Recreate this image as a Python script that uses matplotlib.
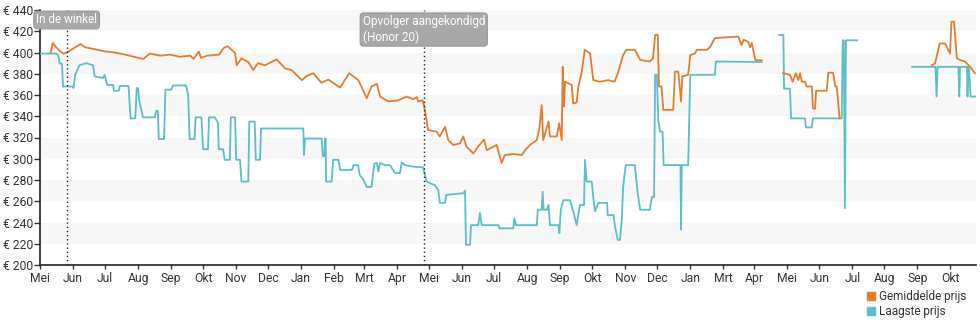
import numpy as np
import matplotlib
matplotlib.use('Agg')
import matplotlib.pyplot as plt
from matplotlib.patches import Patch

plt.rcParams['font.family'] = ['Roboto', 'DejaVu Sans']

start = np.datetime64('2018-05-01')
nan = np.nan

# dagen sinds 1 mei 2018, prijs in euro (nan = geen data)
avg_day = [10, 12, 15, 19, 22, 25, 30, 38, 42, 52, 61, 70, 80, 92, 97, 103, 113, 122, 131,
           141, 144, 149, 151, 157, 168, 172, 176, 183, 184.5, 189, 195.4, 200, 204.5, 211,
           222, 230, 236, 245.5, 250.5, 256.4, 264, 270.5, 281.5, 290, 298.6, 306.5, 311, 316,
           319, 326.7, 336, 344, 350, 353.6, 354.6, 359, 361, 364, 372, 375, 380, 383, 387.7,
           394, 397, 400, 406.5, 411, 416.5, 419, 428.4, 433, 436, 444, 452, 455, 459.6, 466,
           468.4, 470.6, 472, 477, 478.4, 484.7, 487, 489.4, 490.3, 491.5, 492.5, 498.7, 500.2,
           503.4, 505, 508, 511, 516, 519, 525, 533, 539, 542, 547, 550, 558, 563, 572, 575,
           577, 579.5, 580.6, 583, 584.7, 594, 595.6, 598.7, 601.3, 602.5, 608, 610, 614.4, 616,
           625.4, 628.5, 633, 655, 658, 660, 664.4, 666, 667.6, 671, 677,
           nan,
           697, 703.5, 706, 709, 711.4, 713, 714.6, 717.6, 719, 724, 725, 727, 728, 738, 739.5,
           744, 746, 747.4, 750,
           nan,
           836.4, 839.5, 844, 849, 853.6, 855, 857.4, 860, 863, 867.7, 872, 877]
avg_price = [400, 409, 405, 401, 399, 400, 403, 408, 405, 403, 401, 400, 398, 395, 394, 399, 397,
             398, 396, 397, 394, 401, 395, 397, 398, 404, 406, 399.5, 388, 394.5, 391, 383.5, 390,
             388, 393.5, 385, 383.5, 374, 378, 380.5, 371.5, 374.5, 367, 380.5, 374, 357, 368,
             370.5, 358.5, 354, 355, 358.5, 356, 358, 354, 355, 346, 327, 325.5, 321, 330, 317.5,
             313, 314.5, 321, 311.5, 305, 311.5, 318, 308, 313, 296, 303.5, 304.5, 303.5, 308,
             313, 317.5, 328.5, 350.5, 317.5, 335, 321, 321, 333.5, 317.5, 386.5, 349, 372.5,
             369.5, 352, 353, 368, 380.5, 402.5, 399, 374, 372.5, 374, 372.5, 380.5, 397.5, 402.5,
             402.5, 393, 391.5, 394.5, 416.5, 416.5, 368, 368, 346, 346, 382, 382, 354, 377.5,
             379, 397.5, 399, 402.5, 402.5, 405, 413.5, 415, 407, 412, 410, 405, 409, 393, 392.5,
             nan,
             380.5, 379, 372.5, 380.5, 374, 380.5, 372.5, 372.5, 368, 368, 347.5, 347, 364, 364,
             381, 381, 368, 368, 338,
             nan,
             388, 389.5, 408.5, 408.5, 399, 429, 429, 394.5, 393, 391.5, 387, 380.5]

low_day = [0, 15, 17, 18.5, 20.6, 21.6, 31, 31.4, 33, 37, 43.4, 49.7, 51.3, 59, 60.7, 63, 68.5,
           69.4, 74, 74.8, 83, 85, 89.4, 90.7, 92, 93, 96.6, 107.6, 109, 110.6, 111.4, 116.4,
           117.6, 123, 124.8, 137, 139, 140.4, 145, 146, 151.4, 153, 157.6, 158.5, 164, 167,
           167.6, 171.7, 173.3, 178, 179, 183, 184, 187.6, 189, 195.4, 196.3, 201.4, 202.4,
           206.4, 207.3, 247, 247.6, 248.6, 264.2, 265.2, 266.7, 267.3, 268, 268.3, 273.6, 275,
           280, 281.5, 292.7, 294, 298.3, 300, 303, 306.5, 311, 313.6, 316, 317.4, 319, 323.6,
           328.3, 333, 337.7, 339.3, 342.4, 350, 359.3, 362.7, 370.5, 373.6, 375, 380, 381, 397,
           398.7, 399.6, 403.4, 404.3, 411, 412.7, 414.3, 430, 431, 444, 445, 446.5, 466, 467,
           470.6, 471.5, 472.4, 475.5, 477, 478.4, 486.2, 487.2, 488.5, 491, 497, 500.2, 503.4,
           506.5, 510.3, 511.2, 512.8, 517.5, 519, 520.6, 523.7, 532, 532.5, 538, 539.4, 542,
           544, 545.7, 547, 549.4, 558, 560.7, 563, 572, 574, 576, 577, 578.6, 580, 581.7, 584,
           585, 600.8, 601.3, 602, 608, 610, 633, 634, 677,
           nan,
           693.5, 697.3, 698, 703.5, 704.5, 717.6, 718.5, 724, 725, 752, 753, 754, 755, 756,
           766.5,
           nan,
           818, 840, 841, 842, 861.5, 862.3, 863, 869.5, 870, 870.8, 871.5, 873, 878]
low_price = [399, 399, 397.5, 389.5, 389.5, 368, 368, 366.5, 379, 388, 390, 388, 377.5, 376, 379,
             369.5, 369.5, 364, 364, 368.5, 368.5, 338, 338, 366.5, 366.5, 355, 339, 339, 345,
             345, 318.5, 318.5, 365, 365, 369, 369, 360, 318.5, 318.5, 339, 339, 309, 309, 339,
             339, 333.5, 309, 309, 299, 299, 339, 339, 299, 299, 278.5, 278.5, 335, 335, 299,
             299, 328.5, 328.5, 303.5, 319, 319, 302.5, 302.5, 319, 319, 278.5, 278.5, 299, 299,
             289.5, 289.5, 294, 294, 284.5, 281, 273.5, 273.5, 295.5, 296, 288, 296, 294, 294,
             286.5, 286.5, 296.5, 294, 292.5, 292, 278.5, 275, 270.5, 258.5, 258.5, 266, 267.5,
             270, 219, 219, 237.5, 237.5, 249, 237.5, 237.5, 234.5, 234.5, 244, 237.5, 237.5,
             252, 252, 269, 252, 252, 256.5, 237.5, 237.5, 230, 252, 261, 261, 250.5, 237.5,
             256.5, 256.5, 299, 278.5, 278.5, 264, 250.5, 258.5, 258.5, 247, 247, 236, 223.5,
             223.5, 242.5, 273.5, 294, 294, 267.5, 252, 252, 264, 264, 379, 379, 336, 325.5,
             325.5, 294, 294, 233.5, 294, 294, 379, 379, 391.5, 391,
             nan,
             416.5, 416.5, 366, 366, 338, 338, 329.5, 329.5, 338, 338, 411.5, 411.5, 253.5,
             411.5, 411.5,
             nan,
             386.5, 386.5, 358.5, 386.5, 386.5, 358.5, 386.5, 386.5, 358.5, 386.5, 383, 358.5,
             358.5]

month_labels = ['Mei', 'Jun', 'Jul', 'Aug', 'Sep', 'Okt', 'Nov', 'Dec',
                'Jan', 'Feb', 'Mrt', 'Apr', 'Mei', 'Jun', 'Jul', 'Aug', 'Sep', 'Okt', 'Nov', 'Dec',
                'Jan', 'Mrt', 'Apr', 'Mei', 'Jun', 'Jul', 'Aug', 'Sep', 'Okt']

events = ['In de winkel', 'Opvolger aangekondigd\n(Honor 20)']
event_dates = ['2018-05-26', '2019-04-26']

orange = '#ec7a2b'
teal = '#5cbec8'
text_col = '#333333'

fig = plt.figure(figsize=(9.8, 3.25), dpi=100)
ax = fig.add_axes([40 / 980, 60 / 325, 936 / 980, 255 / 325])

ax.set_xlim(0, 878)
ax.set_ylim(200, 440)

# afwisselende achtergrondbanden
for lo in range(220, 440, 40):
    ax.axhspan(lo, lo + 20, color='#f7f7f7', zorder=0, lw=0)

ax.plot(low_day, low_price, color=teal, lw=1.3, zorder=3)
ax.plot(avg_day, avg_price, color=orange, lw=1.3, zorder=4)

months = np.arange('2018-05', '2020-10', dtype='datetime64[M]').astype('datetime64[D]')
month_pos = (months - start).astype(int)
ax.set_xticks(month_pos)
ax.set_xticklabels(month_labels)

yt = np.arange(200, 441, 20)
ax.set_yticks(yt)
ax.set_yticklabels(['€ %d' % v for v in yt])

ax.tick_params(axis='both', labelsize=8.7, colors=text_col, length=3, width=1, pad=2)
ax.tick_params(axis='y', length=4, pad=1)

for s in ['top', 'right']:
    ax.spines[s].set_visible(False)
for s in ['left', 'bottom']:
    ax.spines[s].set_color('#222222')
    ax.spines[s].set_linewidth(1.2)

# gebeurtenissen: stippellijn met label
label_y = [430.6, 421.6]
for name, d, ly in zip(events, event_dates, label_y):
    x = (np.datetime64(d) - start).astype(int)
    ax.axvline(x, color='#222222', lw=1, ls=(0, (1, 2)), zorder=5)
    ax.text(x, ly, name, ha='center', va='center', multialignment='left',
            fontsize=8.5, color='white', zorder=6, clip_on=False,
            bbox=dict(boxstyle='round,pad=0.2,rounding_size=0.3', fc='#a8a8a8', ec='#9a9a9a', lw=0.8))

handles = [Patch(color=orange), Patch(color=teal)]
fig.legend(handles, ['Gemiddelde prijs', 'Laagste prijs'], loc='upper right',
           bbox_to_anchor=(966 / 980, 1 - 290 / 325), frameon=False, fontsize=8.5,
           handlelength=0.7, handleheight=0.7, handletextpad=0.3, labelspacing=0.15,
           borderpad=0, borderaxespad=0, labelcolor=text_col)

fig.savefig('out.png', dpi=100)
